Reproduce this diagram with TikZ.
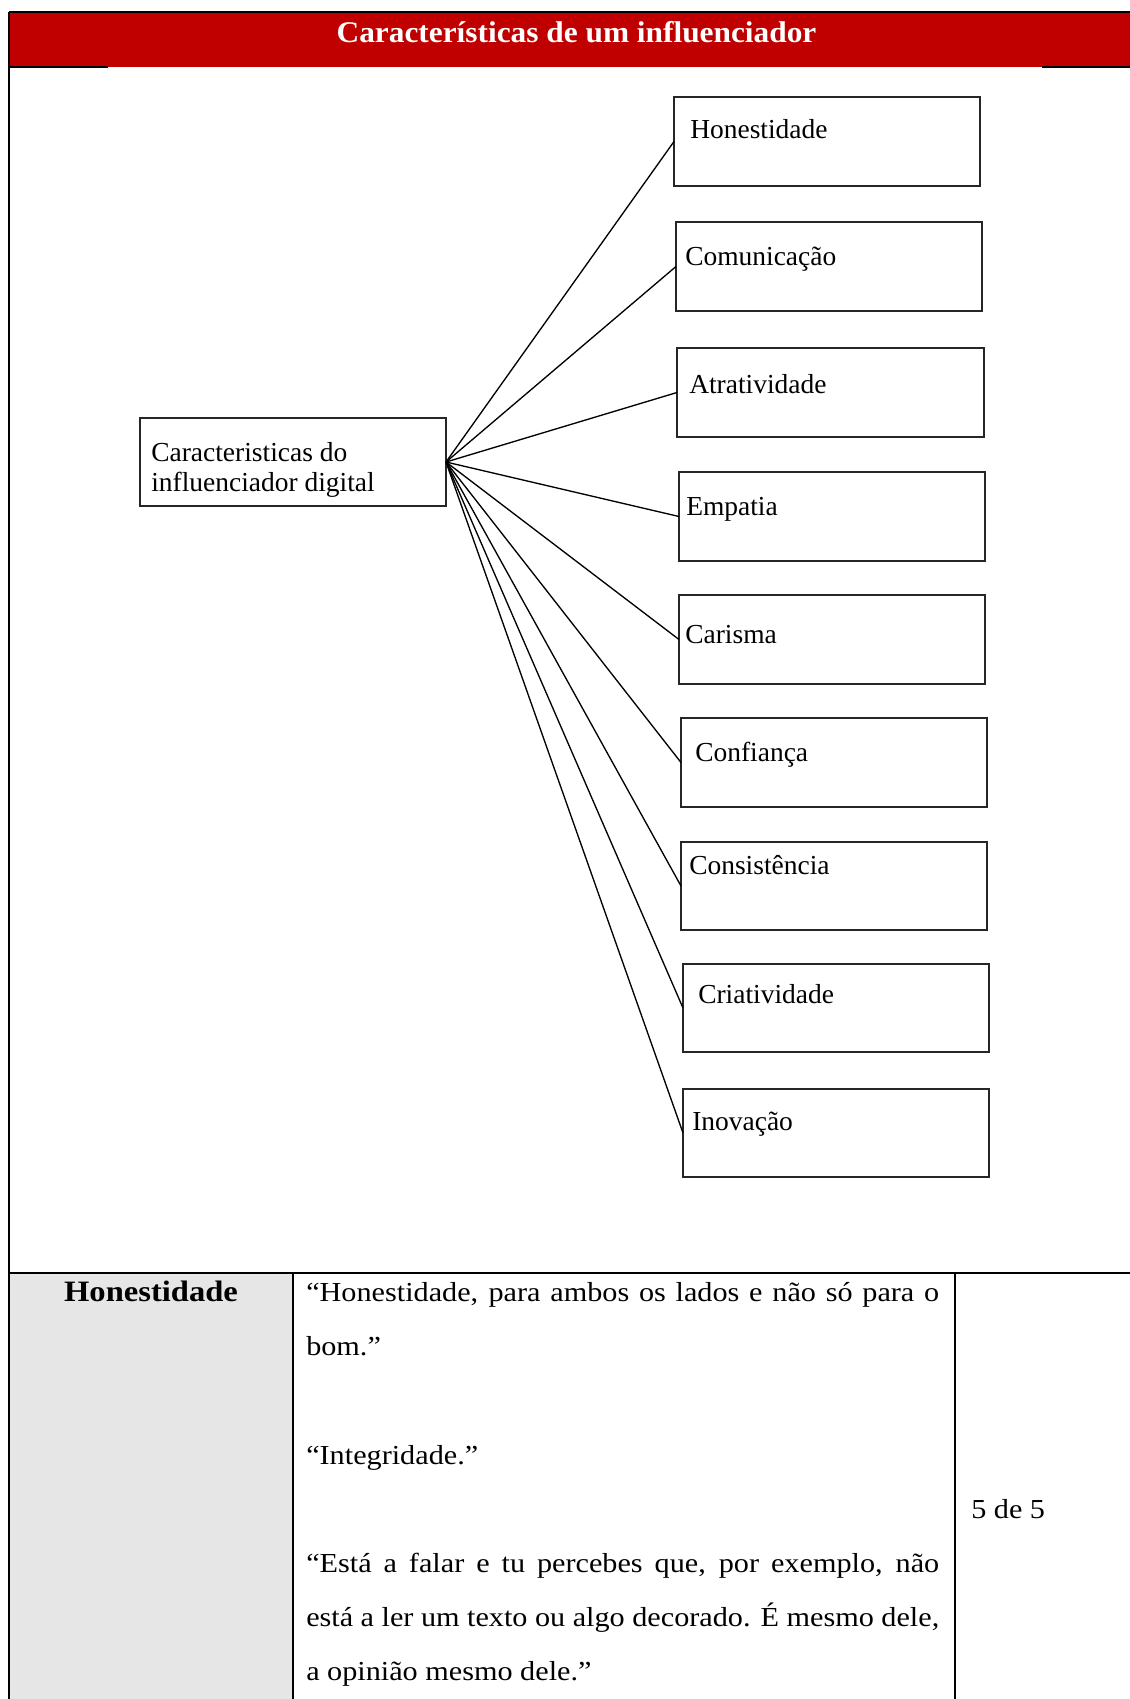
\documentclass[tikz,border=0pt]{standalone}
\usepackage{fontspec}
\setmainfont{Liberation Serif}
\newfontfamily\quotefont[FakeStretch=1.1]{Liberation Serif}
\newfontfamily\titlefont[FakeStretch=1.045]{Liberation Serif}
\usetikzlibrary{fit}
\definecolor{bannerred}{HTML}{C00000}
\definecolor{cellgrey}{HTML}{E6E6E6}
\newlength\quotewidth
\setlength\quotewidth{474.75pt}
\begin{document}
\begin{tikzpicture}[x=0.75pt,y=-0.75pt,
  frame/.style={line width=1.9pt, black},
  rule/.style={line width=1.4pt, black},
  cbox/.style={draw=black!85, line width=1.5pt, inner sep=0pt, outer sep=0pt},
  boxtxt/.style={font=\fontsize{20.6}{24}\selectfont, inner sep=0pt, anchor=base west},
  conn/.style={line width=1pt, black},
  qtxt/.style={font=\quotefont\fontsize{20.6}{24}\selectfont, inner sep=0pt, anchor=base west},
]
\useasboundingbox (0,0) rectangle (1130,1699);

% banner
\fill[bannerred] (9,12) rectangle (1130,67);
\draw[frame] (9,12) -- (1130,12);
\draw[line width=1.1pt] (9,67) -- (108,67);
\draw[line width=1.1pt] (1042,67) -- (1130,67);
\node[font=\titlefont\bfseries\fontsize{22.5}{26}\selectfont, text=white,
      inner sep=0pt, anchor=base] (title) at (576.5,42) {Características de um influenciador};

% table body
\fill[cellgrey] (9,1273) rectangle (293,1699);
\draw[frame] (9,12) -- (9,1699);
\draw[frame] (9,1273) -- (1130,1273);
\draw[rule] (293,1273) -- (293,1699);
\draw[rule] (955,1273) -- (955,1699);

% central box
\node[cbox, fit={(140,418)(446,506)}] (hub) {};
\node[boxtxt] (hubA) at (151,461) {Caracteristicas do};
\node[boxtxt] (hubB) at (151,491) {influenciador digital};

% characteristic boxes and their connectors
\foreach \n/\l/\t/\r/\b/\tx/\ty/\lab in {
  1/674/97/980/186/690/138/Honestidade,
  2/676/222/982/311/685/265/Comunicação,
  3/677/348/984/437/689/393/Atratividade,
  4/679/472/985/561/686/515/Empatia,
  5/679/595/985/684/685/643/Carisma,
  6/681/718/987/807/695/761/Confiança,
  7/681/842/987/930/689/874/Consistência,
  8/683/964/989/1052/698/1003/Criatividade,
  9/683/1089/989/1177/692/1130/Inovação}
{
  \node[cbox, fit={(\l,\t)(\r,\b)}] (b\n) {};
  \node[boxtxt] (t\n) at (\tx,\ty) {\lab};
  \draw[conn] (hub.east) -- (b\n.west);
}

% table row
\node[font=\quotefont\bfseries\fontsize{22.2}{26}\selectfont, inner sep=0pt, anchor=base]
  (cat) at (151,1301) {Honestidade};
\node[qtxt] (q1) at (306,1301) {\makebox[\quotewidth][s]{“Honestidade, para ambos os lados e não só para o}};
\node[qtxt] (q2) at (306,1355) {bom.”};
\node[qtxt] (q3) at (306,1464) {“Integridade.”};
\node[qtxt] (q4) at (306,1572) {\makebox[\quotewidth][s]{“Está a falar e tu percebes que, por exemplo, não}};
\node[qtxt] (q5) at (306,1626) {\makebox[\quotewidth][s]{está a ler um texto ou algo decorado. É mesmo dele,}};
\node[qtxt] (q6) at (306,1680) {a opinião mesmo dele.”};
\node[qtxt] (score) at (971,1518) {5 de 5};
\end{tikzpicture}
\end{document}
